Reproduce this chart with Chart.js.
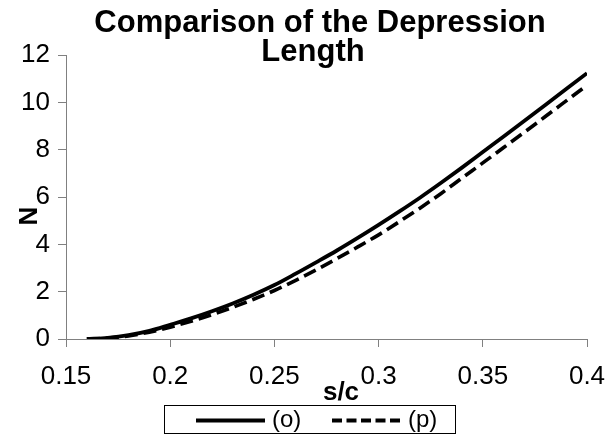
<!DOCTYPE html>
<html>
<head>
<meta charset="utf-8">
<style>
  html, body { margin: 0; padding: 0; background: #fff; }
  #wrap { width: 616px; height: 435px; }
</style>
</head>
<body>
<div id="wrap"><canvas id="chart" width="616" height="435"></canvas></div>
<script src="https://cdn.jsdelivr.net/npm/chart.js@4/dist/chart.umd.min.js"></script>
<script>
// values
const sValues = [0.16, 0.17, 0.18, 0.19, 0.20, 0.21, 0.22, 0.23, 0.24, 0.25, 0.26, 0.27, 0.28,
                 0.29, 0.30, 0.31, 0.32, 0.33, 0.34, 0.35, 0.36, 0.37, 0.38, 0.39, 0.40];
const oValues = [0, 0.05, 0.16, 0.34, 0.6, 0.87, 1.17, 1.5, 1.87, 2.28, 2.75, 3.24, 3.74,
                 4.27, 4.82, 5.39, 5.98, 6.6, 7.24, 7.9, 8.56, 9.22, 9.89, 10.56, 11.23];
const pValues = [0, 0.04, 0.13, 0.29, 0.5, 0.75, 1.03, 1.34, 1.68, 2.05, 2.47, 2.92, 3.4,
                 3.89, 4.4, 4.96, 5.54, 6.15, 6.8, 7.44, 8.09, 8.74, 9.4, 10.06, 10.72];
const xTicks = [0.15, 0.2, 0.25, 0.3, 0.35, 0.4];
const yTicks = [0, 2, 4, 6, 8, 10, 12];
const seriesLabels = ['(o)', '(p)'];
const titleLines = ['Comparison of the Depression', 'Length'];
const xTitle = 's/c';
const yTitle = 'N';

const FONT = '"Liberation Sans", Arial, sans-serif';
const AXIS_GREY = '#808080';

function toPoints(ys) {
    return sValues.map((x, i) => ({x: x, y: ys[i]}));
}

// titles and the boxed legend are drawn by hand, Excel-style
const decorations = {
    id: 'decorations',
    afterDraw(chart) {
        const ctx = chart.ctx;
        ctx.save();
        ctx.fillStyle = '#000';

        // chart title, two lines
        ctx.font = 'bold 31px ' + FONT;
        ctx.textAlign = 'center';
        ctx.textBaseline = 'alphabetic';
        ctx.fillText(titleLines[0], 320, 32);
        ctx.fillText(titleLines[1], 313, 61);

        // axis titles
        ctx.font = 'bold 26px ' + FONT;
        ctx.fillText(xTitle, 341, 400);
        ctx.save();
        ctx.translate(37, 216);
        ctx.rotate(-Math.PI / 2);
        ctx.fillText(yTitle, 0, 0);
        ctx.restore();

        // legend
        const boxL = 164.5, boxT = 405.5, boxW = 291, boxH = 28;
        ctx.strokeStyle = '#000';
        ctx.lineWidth = 1;
        ctx.strokeRect(boxL, boxT, boxW, boxH);

        ctx.font = '24px ' + FONT;
        ctx.textAlign = 'left';
        ctx.textBaseline = 'middle';
        const midY = boxT + boxH / 2 + 1;
        let x = 196;
        chart.data.datasets.forEach((ds, i) => {
            ctx.beginPath();
            ctx.setLineDash(ds.borderDash.length ? [10, 4.5] : []);
            ctx.lineWidth = 4;
            ctx.strokeStyle = ds.borderColor;
            ctx.moveTo(x, midY);
            ctx.lineTo(x + 69, midY);
            ctx.stroke();
            ctx.setLineDash([]);
            ctx.fillText(ds.label, x + 76, midY);
            x += 136;
        });
        ctx.restore();
    }
};

new Chart(document.getElementById('chart'), {
    type: 'line',
    data: {
        datasets: [
            {
                label: seriesLabels[0],
                data: toPoints(oValues),
                borderColor: '#000',
                borderWidth: 3.8,
                borderDash: [],
                pointRadius: 0,
                cubicInterpolationMode: 'monotone'
            },
            {
                label: seriesLabels[1],
                data: toPoints(pValues),
                borderColor: '#000',
                borderWidth: 3.6,
                borderDash: [13, 6],
                pointRadius: 0,
                cubicInterpolationMode: 'monotone'
            }
        ]
    },
    options: {
        responsive: false,
        animation: false,
        layout: {
            padding: {top: 55, right: 29, bottom: 0, left: 0}
        },
        plugins: {
            legend: {display: false},
            title: {display: false},
            tooltip: {enabled: false}
        },
        scales: {
            x: {
                type: 'linear',
                min: 0.15,
                max: 0.4,
                afterBuildTicks: s => { s.ticks = xTicks.map(v => ({value: v})); },
                afterFit: s => {
                    s.height = 435 - 339;
                    s.paddingLeft = 0;
                    s.paddingRight = 0;
                },
                ticks: {
                    color: '#000',
                    font: {family: FONT, size: 26},
                    padding: 14,
                    maxRotation: 0,
                    autoSkip: false,
                    callback: v => String(Number(v.toFixed(2)))
                },
                grid: {
                    drawOnChartArea: false,
                    tickLength: 8,
                    color: AXIS_GREY
                },
                border: {color: AXIS_GREY, width: 1}
            },
            y: {
                min: 0,
                max: 12,
                afterBuildTicks: s => { s.ticks = yTicks.map(v => ({value: v})); },
                afterFit: s => {
                    s.width = 66;
                    s.paddingTop = 0;
                    s.paddingBottom = 0;
                },
                ticks: {
                    color: '#000',
                    font: {family: FONT, size: 26},
                    padding: 8,
                    autoSkip: false
                },
                grid: {
                    drawOnChartArea: false,
                    tickLength: 8,
                    color: AXIS_GREY
                },
                border: {color: AXIS_GREY, width: 1}
            }
        }
    },
    plugins: [decorations]
});
</script>
</body>
</html>
